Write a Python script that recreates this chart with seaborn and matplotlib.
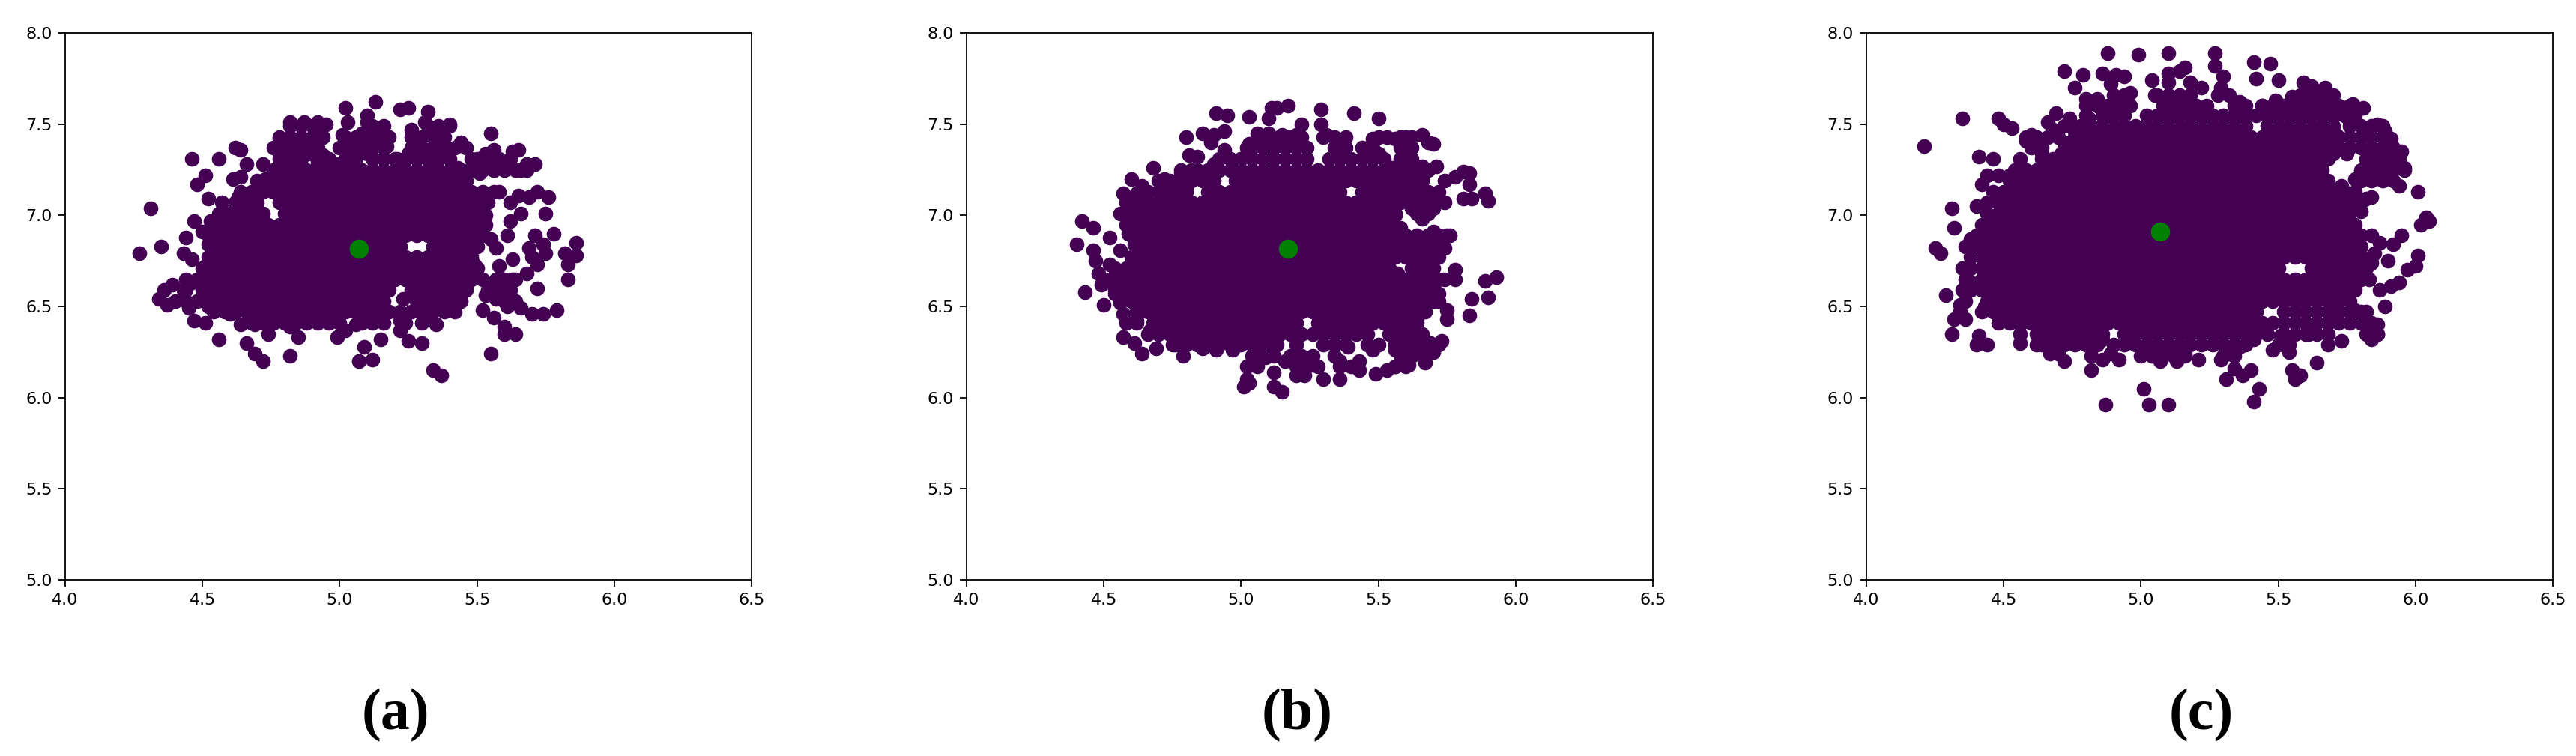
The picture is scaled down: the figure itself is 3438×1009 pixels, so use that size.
#scatter of three clusters with their centers
import matplotlib
matplotlib.use('Agg')
import matplotlib.pyplot as plt
import seaborn as sb
import pandas as pd

panel_names = ['(a)', '(b)', '(c)']
x_ticks = [4.0, 4.5, 5.0, 5.5, 6.0, 6.5]
y_ticks = [5.0, 5.5, 6.0, 6.5, 7.0, 7.5, 8.0]
center_x = [5.07, 5.17, 5.07]
center_y = [6.815, 6.815, 6.913]

# loose points around the edge of each cloud
a_x = [5.02,5.13,5.22,5.25,5.32,5.03,5.10,5.10,5.31,5.40,5.26,5.55,4.82,4.87,4.92,4.95,5.15,5.08,5.01,4.78,4.86,4.93,5.36,5.44,5.17,5.11,5.29,5.36,4.62,4.64,4.46,4.56,4.78,5.63,5.65,5.56,5.53,5.48,5.03,4.89,4.94,5.10,4.66,4.72,4.78,4.84,4.92,4.51,4.48,4.61,4.64,4.73,5.71,5.68,5.66,5.60,5.53,5.43,5.35,5.25,5.21,5.13,4.99,4.83,5.48,5.56,5.51,4.79,4.76,4.68,4.63,
       5.58,5.72,5.76,5.65,5.69,5.62,5.75,5.66,5.62,5.78,5.86,5.82,5.86,5.83,5.83,5.61,5.71,5.74,5.69,5.75,5.70,5.72,5.63,5.58,5.57,5.55,5.68,5.63,5.57,5.52,5.72,5.79,5.74,5.70,5.66,5.61,5.57,5.53,5.52,5.56,5.60,5.64,5.60,5.55,5.34,5.37,5.49,5.46,5.53,5.53,5.48,5.53,5.46,5.60,5.60,5.56,
       4.31,4.27,4.35,4.44,4.47,4.53,4.52,4.57,4.50,4.43,4.46,4.52,4.55,4.39,4.36,4.34,4.37,4.43,4.46,4.45,4.52,4.47,4.51,4.60,4.64,4.69,4.74,4.82,4.85,4.56,4.66,4.69,4.72,4.82,4.99,5.02,5.09,5.07,5.12,5.15,5.22,5.25,5.30,5.35,5.33,5.28,5.22,5.06,4.93,5.04,5.16,5.40,5.35,5.23,4.51,4.49,4.56]
a_y = [7.59,7.62,7.58,7.59,7.57,7.51,7.55,7.51,7.51,7.50,7.47,7.45,7.51,7.51,7.51,7.50,7.48,7.45,7.44,7.42,7.42,7.45,7.45,7.40,7.38,7.42,7.38,7.38,7.37,7.36,7.31,7.31,7.34,7.35,7.36,7.36,7.34,7.31,7.37,7.34,7.33,7.34,7.28,7.28,7.26,7.25,7.29,7.22,7.17,7.20,7.21,7.20,7.28,7.28,7.25,7.26,7.28,7.26,7.30,7.34,7.31,7.23,7.28,7.19,7.26,7.25,7.23,7.19,7.13,7.13,7.10,
       7.13,7.13,7.10,7.11,7.10,7.07,7.01,7.01,6.97,6.90,6.85,6.79,6.78,6.73,6.65,6.89,6.89,6.84,6.82,6.79,6.77,6.73,6.76,6.72,6.82,6.87,6.68,6.65,6.65,6.65,6.60,6.48,6.46,6.46,6.49,6.50,6.54,6.56,6.48,6.44,6.39,6.35,6.35,6.24,6.15,6.12,6.73,6.62,7.00,7.09,7.04,6.95,6.87,6.60,6.56,6.63,
       7.04,6.79,6.83,6.88,6.97,6.97,7.09,7.07,6.91,6.79,6.76,6.84,6.78,6.62,6.59,6.54,6.51,6.59,6.63,6.49,6.50,6.42,6.41,6.46,6.40,6.40,6.35,6.39,6.33,6.32,6.30,6.24,6.20,6.23,6.33,6.37,6.28,6.20,6.21,6.32,6.37,6.31,6.30,6.40,6.44,6.48,6.42,6.40,6.43,6.48,6.48,6.51,6.54,6.54,6.72,6.63,6.57]

b_x = [4.91,4.95,5.03,5.11,5.13,5.17,5.10,5.29,5.41,5.50,5.22,5.29,4.80,4.86,4.90,4.94,4.89,5.06,5.10,5.03,5.15,5.20,5.31,5.35,5.48,5.53,5.56,5.60,5.66,5.70,5.68,4.94,4.81,4.84,5.00,4.90,5.45,5.50,5.59,5.60,5.66,5.71,5.83,5.81,5.78,5.74,5.83,5.81,5.84,5.89,5.90,4.68,4.60,4.72,4.72,4.64,4.57,4.62,4.58,4.78,4.83,4.87,4.67,4.80,
       4.42,4.46,4.40,4.52,4.59,4.61,4.46,4.56,4.47,4.52,4.48,4.49,4.43,4.54,4.50,4.56,4.57,4.58,4.62,4.57,4.61,4.64,4.69,4.79,4.75,4.67,4.86,4.91,4.97,
       5.04,5.02,5.01,5.03,5.12,5.12,5.15,5.16,5.13,5.09,5.05,5.20,5.23,5.26,5.30,5.36,5.36,5.43,5.43,5.49,5.53,5.56,5.61,5.67,5.70,5.73,5.69,5.64,5.59,5.56,5.48,5.39,5.23,
       5.63,5.64,5.67,5.70,5.72,5.69,5.69,5.63,5.57,5.74,5.78,5.78,5.89,5.93,5.84,5.90,5.83,5.75,5.75,5.62,5.63,5.58,5.75,5.70,5.74,5.72,5.65,5.67,5.62,5.58,5.57,5.66,5.70,5.67,5.71,5.62,5.56,5.62,5.58,5.62,5.55,5.54]
b_y = [7.56,7.55,7.54,7.59,7.59,7.60,7.53,7.58,7.56,7.53,7.50,7.50,7.43,7.45,7.44,7.46,7.40,7.45,7.45,7.39,7.44,7.44,7.44,7.40,7.42,7.43,7.42,7.43,7.44,7.39,7.40,7.36,7.33,7.32,7.31,7.28,7.34,7.34,7.35,7.30,7.27,7.27,7.23,7.24,7.21,7.19,7.17,7.09,7.09,7.12,7.08,7.26,7.20,7.20,7.13,7.16,7.12,7.12,7.02,7.23,7.22,7.20,7.06,7.15,
       6.97,6.93,6.84,6.88,6.90,6.84,6.81,6.81,6.75,6.73,6.68,6.62,6.58,6.57,6.51,6.52,6.46,6.41,6.42,6.33,6.30,6.24,6.27,6.23,6.29,6.37,6.27,6.26,6.26,
       6.18,6.10,6.06,6.08,6.14,6.06,6.03,6.20,6.29,6.22,6.25,6.12,6.12,6.18,6.10,6.10,6.20,6.15,6.20,6.13,6.15,6.17,6.18,6.19,6.25,6.31,6.30,6.30,6.23,6.26,6.26,6.28,6.22,
       6.35,6.43,6.47,6.53,6.57,6.63,6.68,6.66,6.68,6.65,6.70,6.65,6.64,6.66,6.54,6.55,6.45,6.48,6.43,6.56,6.48,6.45,6.89,6.91,6.82,6.77,6.85,6.78,6.82,6.93,6.84,6.98,7.04,7.12,7.09,7.04,7.00,7.17,7.19,7.23,7.26,7.16]

c_x = [4.88,4.99,5.10,5.27,5.41,5.47,5.42,5.50,4.72,4.79,4.86,5.04,5.16,5.10,5.14,4.91,4.94,5.10,5.18,5.22,5.27,5.30,5.29,4.76,4.80,4.89,4.96,5.59,5.62,5.67,5.70,5.77,5.81,5.70,5.55,5.49,5.44,5.36,5.05,4.84,4.81,4.69,4.74,4.66,4.35,4.48,4.50,4.53,4.21,4.60,4.58,4.64,4.68,4.76,4.41,4.46,4.56,4.64,4.71,4.44,4.48,4.52,4.42,4.46,4.54,
       4.31,4.40,4.46,4.32,4.43,4.25,4.27,4.36,4.38,4.35,4.43,4.38,4.29,4.35,4.34,4.32,4.36,4.42,4.43,4.48,4.56,4.31,4.41,4.40,4.44,4.56,4.62,4.67,4.70,4.72,4.82,4.82,4.86,4.89,4.92,4.76,4.86,4.95,5.01,5.07,5.13,5.16,5.21,5.29,5.32,5.34,5.40,5.37,5.31,5.43,5.41,5.01,4.87,5.03,5.10,5.48,5.54,5.55,5.58,5.56,5.64,5.68,5.73,5.61,5.51,5.36,5.41,
       5.83,5.84,5.86,5.86,5.82,5.78,5.71,5.71,5.89,5.87,5.91,5.94,5.83,5.97,6.01,6.00,5.90,5.84,5.85,5.78,5.87,5.92,5.95,6.02,6.04,6.05,5.80,5.82,5.84,6.01,5.94,5.91,5.96,5.86,5.84,5.78,5.89,5.95,5.91,5.89,5.86,5.81,5.75,5.71,5.76,5.73,5.76,5.78,5.75,5.76,5.74,5.70]
c_y = [7.89,7.88,7.89,7.89,7.84,7.83,7.75,7.74,7.79,7.77,7.78,7.74,7.81,7.78,7.79,7.77,7.76,7.73,7.73,7.70,7.82,7.76,7.70,7.70,7.64,7.72,7.67,7.73,7.71,7.70,7.66,7.61,7.59,7.60,7.65,7.63,7.60,7.62,7.66,7.64,7.53,7.56,7.53,7.51,7.53,7.53,7.50,7.48,7.38,7.44,7.41,7.40,7.47,7.46,7.32,7.31,7.31,7.34,7.34,7.22,7.22,7.22,7.17,7.13,7.18,
       7.04,7.05,6.99,6.93,6.90,6.82,6.79,6.83,6.87,6.71,6.78,6.63,6.56,6.59,6.51,6.43,6.43,6.59,6.50,6.41,6.40,6.35,6.34,6.29,6.29,6.30,6.29,6.24,6.24,6.20,6.23,6.15,6.21,6.24,6.21,6.35,6.32,6.32,6.25,6.20,6.20,6.24,6.21,6.21,6.24,6.16,6.15,6.12,6.10,6.05,5.98,6.05,5.96,5.96,5.96,6.26,6.25,6.15,6.12,6.10,6.19,6.29,6.31,6.35,6.34,6.28,6.32,
       6.35,6.32,6.40,6.35,6.47,6.48,6.44,6.50,6.50,6.59,6.61,6.63,6.65,6.70,6.78,6.72,6.75,6.74,6.79,6.73,6.85,6.84,6.89,6.95,6.99,6.97,7.02,7.09,7.10,7.13,7.16,7.23,7.26,7.28,7.22,7.20,7.31,7.35,7.42,7.46,7.50,7.45,7.34,7.44,7.51,7.16,7.09,6.88,6.93,6.68,6.60,6.54]

# inside the clouds single dots can't be told apart, so these are read as
# rows of dots that fill the solid part: y -> x values
a_rows = {
    7.25: [4.96,5.00,5.04,5.08,5.12,5.16,5.20,5.24,5.28,5.32,5.36],
    7.19: [4.94,4.98,5.02,5.06,5.10,5.14,5.18,5.22,5.26,5.30,5.34,5.38],
    7.13: [4.72,4.76,4.80,4.84,4.88,4.92,4.96,5.00,5.04,5.08,5.12,5.16,5.20,5.24,5.28,5.32,5.36,5.40,5.44,5.48],
    7.07: [4.66,4.70,4.78,4.82,4.86,4.90,4.94,4.98,5.02,5.06,5.10,5.14,5.18,5.22,5.26,5.30,5.34,5.38,5.42],
    7.01: [4.60,4.64,4.68,4.72,4.80,4.84,4.88,4.92,4.96,5.00,5.04,5.08,5.12,5.16,5.20,5.24,5.28,5.32,5.36,5.40],
    6.95: [4.58,4.62,4.66,4.70,4.74,4.78,4.82,4.86,4.90,4.94,4.98,5.02,5.06,5.10,5.14,5.18,5.22,5.26,5.30,5.34],
    6.89: [4.60,4.64,4.68,4.72,4.76,4.80,4.84,4.88,4.92,4.96,5.00,5.04,5.08,5.12,5.16,5.20,5.24,5.28,5.32,5.36,5.40,5.44,5.48],
    6.83: [4.62,4.66,4.70,4.74,4.78,4.82,4.86,4.90,4.94,4.98,5.02,5.06,5.10,5.14,5.18,5.22,5.34,5.38,5.42,5.46],
    6.77: [4.60,4.64,4.68,4.72,4.76,4.80,4.84,4.88,4.92,4.96,5.00,5.04,5.08,5.12,5.16,5.20,5.24,5.28,5.32,5.36,5.40],
    6.71: [4.58,4.62,4.66,4.70,4.74,4.78,4.82,4.86,4.90,4.94,4.98,5.02,5.06,5.10,5.14,5.18,5.22,5.26,5.30,5.34,5.38,5.42],
    6.65: [4.56,4.60,4.64,4.68,4.72,4.76,4.80,4.84,4.88,4.92,4.96,5.00,5.04,5.08,5.12,5.16,5.20,5.24,5.28,5.32,5.36,5.40,5.44],
    6.59: [4.58,4.62,4.66,4.70,4.74,4.78,4.82,4.86,4.90,4.94,4.98,5.02,5.06,5.10,5.14,5.18,5.26,5.30,5.34,5.38,5.42],
    6.53: [4.52,4.56,4.60,4.64,4.68,4.72,4.76,4.80,4.84,4.88,4.92,4.96,5.00,5.04,5.08,5.12,5.16,5.28,5.32,5.36,5.40],
    6.47: [4.62,4.66,4.70,4.74,4.78,4.82,4.86,4.90,4.94,4.98,5.10,5.14,5.18,5.30,5.34,5.38],
    6.41: [4.80,4.84,4.88,4.92,4.96],
}
# the patchier band between the solid part and the loose points
a_edge = {
    7.49: [4.82,4.86,4.90,4.94,5.12,5.16,5.32,5.36,5.40],
    7.43: [4.78,4.82,4.86,4.90,4.94,5.02,5.06,5.10,5.14,5.18,5.26,5.30,5.34,5.38],
    7.37: [4.76,4.80,4.84,4.88,4.92,5.00,5.04,5.08,5.12,5.16,5.26,5.30,5.34,5.38,5.42,5.46],
    7.31: [4.78,4.82,4.86,4.92,4.96,5.02,5.06,5.12,5.16,5.20,5.24,5.28,5.32,5.36,5.40,5.50,5.54,5.58,5.62],
    7.25: [4.76,4.80,4.84,4.88,4.92,5.40,5.44,5.48,5.52,5.56,5.60,5.64,5.68],
    7.19: [4.70,4.74,4.78,4.82,4.86,4.90,5.42,5.46],
    7.13: [4.64,4.68,5.52,5.56],
    7.07: [4.62,5.46,5.50,5.54],
    7.01: [4.56,5.44,5.48,5.52],
    6.95: [4.54,5.38,5.42,5.46,5.50],
    6.89: [4.52,4.56,5.52],
    6.83: [4.54,4.58,5.50],
    6.77: [4.52,4.56,5.44,5.48],
    6.71: [4.50,4.54,5.46,5.50],
    6.65: [4.44,4.48,4.52,5.48,5.60,5.64],
    6.59: [4.44,4.50,4.54,5.46,5.54,5.58,5.62],
    6.53: [4.40,4.44,4.48,5.44,5.60,5.64],
    6.47: [4.54,4.58,5.02,5.06,5.22,5.26,5.42],
    6.41: [4.68,4.72,4.76,5.00,5.08,5.12,5.16,5.24,5.30],
}
b_rows = {
    7.37: [5.08,5.12,5.16,5.20,5.24,5.34,5.38],
    7.31: [4.96,5.00,5.04,5.08,5.12,5.16,5.20,5.24,5.32,5.36,5.40],
    7.25: [4.88,4.92,4.96,5.00,5.04,5.08,5.12,5.16,5.20,5.24,5.28,5.32,5.36,5.40,5.48,5.52,5.56,5.60],
    7.19: [4.78,4.82,4.86,4.90,4.98,5.02,5.06,5.10,5.14,5.18,5.22,5.26,5.30,5.34,5.38,5.42,5.46,5.50,5.54,5.58],
    7.13: [4.76,4.80,4.88,4.92,4.96,5.00,5.04,5.08,5.12,5.16,5.20,5.24,5.28,5.32,5.36,5.44,5.48,5.52,5.56,5.60],
    7.07: [4.62,4.66,4.70,4.74,4.78,4.82,4.86,4.90,4.94,4.98,5.02,5.06,5.10,5.14,5.18,5.22,5.26,5.30,5.34,5.38,5.42,5.46,5.50,5.54],
    7.01: [4.64,4.68,4.72,4.76,4.80,4.84,4.88,4.92,4.96,5.00,5.04,5.08,5.12,5.16,5.20,5.24,5.28,5.32,5.36,5.40,5.44,5.48],
    6.95: [4.62,4.66,4.70,4.74,4.78,4.82,4.86,4.90,4.94,4.98,5.02,5.06,5.10,5.14,5.18,5.22,5.26,5.30,5.34,5.38,5.42,5.46,5.50],
    6.89: [4.64,4.68,4.72,4.76,4.80,4.84,4.88,4.92,4.96,5.00,5.04,5.08,5.12,5.16,5.20,5.24,5.28,5.32,5.36,5.40,5.44,5.48,5.52],
    6.83: [4.66,4.70,4.74,4.78,4.82,4.86,4.90,4.94,4.98,5.02,5.06,5.10,5.14,5.18,5.22,5.26,5.30,5.34,5.38,5.42,5.46,5.50,5.54,5.58],
    6.77: [4.64,4.68,4.72,4.76,4.80,4.84,4.88,4.92,4.96,5.00,5.04,5.08,5.12,5.16,5.20,5.24,5.28,5.32,5.36,5.40,5.44,5.48,5.52,5.56],
    6.71: [4.58,4.62,4.66,4.70,4.74,4.78,4.82,4.86,4.90,4.94,4.98,5.02,5.06,5.10,5.14,5.18,5.22,5.26,5.30,5.34,5.38,5.42,5.46,5.50],
    6.65: [4.56,4.60,4.64,4.68,4.72,4.76,4.80,4.84,4.88,4.92,4.96,5.00,5.04,5.08,5.12,5.16,5.20,5.24,5.28,5.32,5.36,5.40,5.44,5.48,5.52],
    6.59: [4.62,4.66,4.70,4.74,4.78,4.82,4.86,4.90,4.94,4.98,5.02,5.06,5.10,5.14,5.18,5.22,5.26,5.30,5.34,5.38,5.42,5.46,5.50],
    6.53: [4.64,4.68,4.72,4.76,4.80,4.84,4.88,4.92,4.96,5.00,5.04,5.08,5.12,5.16,5.20,5.24,5.28,5.32,5.36,5.40,5.44,5.48,5.52],
    6.47: [4.66,4.70,4.74,4.78,4.82,4.86,4.90,4.94,4.98,5.02,5.06,5.10,5.14,5.18,5.22,5.26,5.30,5.34,5.38,5.42,5.46,5.50],
    6.41: [4.68,4.72,4.76,4.80,4.84,4.88,4.92,4.96,5.00,5.04,5.08,5.12,5.16,5.20,5.28,5.32,5.36,5.40,5.44,5.48,5.52,5.56,5.60],
    6.35: [4.70,4.74,4.78,4.82,4.86,4.90,4.94,4.98,5.02,5.06,5.10,5.14,5.18,5.22,5.26,5.30,5.34,5.38,5.42,5.46,5.54,5.58],
    6.29: [4.84,4.88,4.92,4.96,5.00,5.04,5.08,5.34,5.38,5.56,5.60],
}
b_edge = {
    7.43: [5.06,5.10,5.14,5.18,5.22,5.30,5.34,5.38,5.50,5.58,5.62],
    7.37: [5.02,5.04,5.44,5.48,5.58,5.60,5.62],
    7.31: [4.92,5.44,5.48,5.52,5.58,5.62],
    7.25: [4.78,4.82,4.84,5.44,5.64,5.68],
    7.19: [4.70,4.74,5.62,5.66],
    7.13: [4.66,4.70,5.64,5.68,5.72],
    7.07: [4.58,5.58,5.62,5.66,5.70,5.74],
    7.01: [4.56,4.60,5.52,5.56,5.64,5.68],
    6.95: [4.58,5.54],
    6.89: [4.60,5.56,5.60,5.64,5.68,5.72,5.76],
    6.83: [4.62,5.62,5.66,5.70],
    6.77: [4.60,5.60,5.64,5.68],
    6.71: [4.54,5.54,5.62,5.66,5.70],
    6.65: [4.52,5.56,5.60,5.64,5.68,5.72],
    6.59: [4.54,4.58,5.54,5.58,5.62,5.66,5.70],
    6.53: [4.60,5.56,5.60,5.64,5.68,5.72],
    6.47: [4.62,5.54,5.58,5.62,5.66],
    6.41: [4.62,5.64],
    6.35: [4.66,5.62,5.66],
    6.29: [4.76,4.80,5.12,5.20,5.30,5.46,5.50,5.64,5.68,5.72],
    6.23: [5.04,5.08,5.12,5.18,5.22,5.26,5.34,5.58,5.62,5.66],
    6.17: [5.02,5.06,5.20,5.24,5.28,5.36,5.40,5.56,5.60],
}
c_rows = {
    7.60: [4.88,4.92,4.96,5.08,5.12,5.16,5.20,5.24,5.34,5.60,5.64,5.68],
    7.55: [4.86,4.90,4.94,5.02,5.06,5.10,5.14,5.18,5.22,5.26,5.30,5.34,5.38,5.42,5.46,5.50,5.58,5.62,5.66,5.70],
    7.49: [4.78,4.82,4.86,4.90,4.94,4.98,5.02,5.06,5.10,5.14,5.18,5.22,5.26,5.30,5.34,5.38,5.46,5.50,5.54,5.58,5.62,5.66,5.70],
    7.43: [4.76,4.80,4.84,4.88,4.92,4.96,5.00,5.04,5.08,5.12,5.16,5.20,5.24,5.28,5.32,5.36,5.40,5.44,5.48,5.52,5.56,5.60,5.64,5.68],
    7.40: [4.74,4.78,4.82,4.86,4.90,4.94,4.98,5.02,5.06,5.10,5.14,5.18,5.22,5.26,5.30,5.34,5.38,5.42,5.46,5.50,5.54,5.58,5.62,5.66,5.70],
    7.37: [4.72,4.76,4.80,4.84,4.88,4.92,4.96,5.00,5.04,5.08,5.12,5.16,5.20,5.24,5.28,5.32,5.36,5.40,5.44,5.48,5.52,5.56,5.60,5.64,5.68,5.72],
    7.34: [4.74,4.78,4.82,4.86,4.90,4.94,4.98,5.02,5.06,5.10,5.14,5.18,5.22,5.26,5.30,5.34,5.38,5.42,5.46,5.50,5.54,5.58,5.62,5.66,5.70],
    7.31: [4.76,4.80,4.84,4.88,4.92,4.96,5.00,5.04,5.08,5.12,5.16,5.20,5.24,5.28,5.32,5.36,5.40,5.44,5.48,5.52,5.56,5.60,5.64,5.68],
    7.25: [4.58,4.62,4.66,4.70,4.74,4.78,4.82,4.86,4.90,4.94,4.98,5.02,5.06,5.10,5.14,5.18,5.22,5.26,5.30,5.34,5.38,5.42,5.46,5.50,5.54,5.58,5.62,5.66],
    7.19: [4.56,4.60,4.64,4.68,4.72,4.76,4.80,4.84,4.88,4.92,4.96,5.00,5.04,5.08,5.12,5.16,5.20,5.24,5.28,5.32,5.36,5.40,5.44,5.48,5.52,5.56,5.60],
    7.13: [4.54,4.58,4.62,4.66,4.70,4.74,4.78,4.82,4.86,4.90,4.94,4.98,5.02,5.06,5.10,5.14,5.18,5.22,5.26,5.30,5.34,5.38,5.42,5.46,5.50,5.54,5.58,5.62,5.66,5.70,5.74],
    7.07: [4.48,4.52,4.56,4.60,4.64,4.68,4.72,4.76,4.80,4.84,4.88,4.92,4.96,5.00,5.04,5.08,5.12,5.16,5.20,5.24,5.28,5.32,5.36,5.40,5.44,5.48,5.52,5.56,5.60,5.64,5.68,5.72,5.76],
    7.04: [4.50,4.54,4.58,4.62,4.66,4.70,4.74,4.78,4.82,4.86,4.90,4.94,4.98,5.02,5.06,5.10,5.14,5.18,5.22,5.26,5.30,5.34,5.38,5.42,5.46,5.50,5.54,5.58,5.62,5.66,5.70,5.74],
    7.01: [4.48,4.52,4.56,4.60,4.64,4.68,4.72,4.76,4.80,4.84,4.88,4.92,4.96,5.00,5.04,5.08,5.12,5.16,5.20,5.24,5.28,5.32,5.36,5.40,5.44,5.48,5.52,5.56,5.60,5.64,5.68,5.72],
    6.95: [4.46,4.50,4.54,4.58,4.62,4.66,4.70,4.74,4.78,4.82,4.86,4.90,4.94,4.98,5.02,5.06,5.10,5.14,5.18,5.22,5.26,5.30,5.34,5.38,5.42,5.46,5.50,5.54,5.58,5.62,5.66,5.70,5.74],
    6.89: [4.44,4.48,4.52,4.56,4.60,4.64,4.68,4.72,4.76,4.80,4.84,4.88,4.92,4.96,5.00,5.04,5.08,5.12,5.16,5.20,5.24,5.28,5.32,5.36,5.40,5.44,5.48,5.52,5.56,5.60,5.64,5.68,5.72,5.76],
    6.83: [4.42,4.46,4.50,4.54,4.58,4.62,4.66,4.70,4.74,4.78,4.82,4.86,4.90,4.94,4.98,5.02,5.06,5.10,5.14,5.18,5.22,5.26,5.30,5.34,5.38,5.42,5.46,5.50,5.54,5.58,5.62,5.66,5.70,5.74,5.78],
    6.77: [4.42,4.44,4.48,4.52,4.56,4.60,4.64,4.68,4.72,4.76,4.80,4.84,4.88,4.92,4.96,5.00,5.04,5.08,5.12,5.16,5.20,5.24,5.28,5.32,5.36,5.40,5.44,5.48,5.52,5.56,5.60,5.64,5.68,5.72,5.76,5.80],
    6.71: [4.42,4.46,4.50,4.54,4.58,4.62,4.66,4.70,4.74,4.78,4.82,4.86,4.90,4.94,4.98,5.02,5.06,5.10,5.14,5.18,5.22,5.26,5.30,5.34,5.38,5.42,5.46,5.50,5.62,5.66,5.70,5.74,5.78],
    6.65: [4.42,4.44,4.48,4.52,4.56,4.60,4.64,4.68,4.72,4.76,4.80,4.84,4.88,4.92,4.96,5.00,5.04,5.08,5.12,5.16,5.20,5.24,5.28,5.32,5.36,5.40,5.44,5.48,5.52,5.56,5.60,5.64,5.68,5.72,5.76],
    6.59: [4.42,4.46,4.50,4.54,4.58,4.62,4.66,4.70,4.74,4.78,4.82,4.86,4.90,4.94,4.98,5.02,5.06,5.10,5.14,5.18,5.22,5.26,5.30,5.34,5.38,5.42,5.46,5.50,5.54,5.58,5.62,5.70],
    6.53: [4.44,4.48,4.52,4.56,4.60,4.64,4.68,4.72,4.76,4.80,4.84,4.88,4.92,4.96,5.00,5.04,5.08,5.12,5.16,5.20,5.24,5.28,5.32,5.36,5.40,5.44,5.48,5.52,5.56,5.60],
    6.47: [4.46,4.50,4.54,4.58,4.62,4.66,4.70,4.74,4.78,4.82,4.86,4.90,4.94,4.98,5.02,5.06,5.10,5.14,5.18,5.22,5.26,5.30,5.34,5.38,5.52,5.56,5.60,5.64],
    6.41: [4.52,4.56,4.60,4.64,4.68,4.72,4.76,4.80,4.84,4.88,4.92,4.96,5.00,5.04,5.08,5.12,5.16,5.20,5.24,5.28,5.32,5.36,5.40,5.56,5.60,5.64,5.68],
    6.35: [4.62,4.66,4.70,4.74,4.78,4.82,4.86,4.94,4.98,5.02,5.06,5.10,5.14,5.18,5.22,5.26,5.30,5.34,5.38],
}
c_edge = {
    7.66: [4.90,4.94,5.06,5.10,5.14,5.18,5.28,5.32,5.58,5.62,5.66],
    7.60: [4.80,4.84,5.38,5.44,5.48,5.52,5.56,5.72,5.76],
    7.55: [4.80,5.54,5.74,5.78],
    7.49: [4.72,5.76,5.80,5.84,5.88],
    7.43: [4.58,4.62,4.66,4.70,5.72,5.76,5.80,5.84,5.88],
    7.37: [4.60,4.64,5.76,5.80,5.84,5.88,5.92],
    7.31: [4.64,4.68,4.72,5.82,5.86,5.90,5.94],
    7.25: [4.54,5.80,5.84,5.88,5.92,5.96],
    7.19: [4.52,5.64,5.68,5.80,5.84,5.88,5.92],
    7.13: [4.50,5.78],
    7.07: [4.44,5.80],
    7.01: [4.44,5.76],
    6.95: [4.42,5.78],
    6.89: [4.40,5.80,5.84],
    6.83: [4.38,5.80],
    6.77: [4.38,5.84],
    6.71: [4.38,5.82],
    6.65: [4.36,5.80],
    6.59: [4.38,5.66,5.74,5.78],
    6.53: [4.36,5.64,5.68,5.72,5.76],
    6.47: [4.34,4.42,5.42,5.68,5.72,5.76,5.80],
    6.41: [5.44,5.48,5.52,5.72,5.76,5.80,5.84],
    6.35: [4.56,5.42,5.46,5.52,5.56,5.60,5.64,5.68,5.82,5.86],
    6.29: [4.64,4.68,4.72,4.76,4.80,4.84,4.90,4.94,4.98,5.02,5.06,5.10,5.14,5.18,5.22,5.26,5.30,5.34,5.38,5.50,5.54],
    6.23: [5.00,5.04,5.08,5.12,5.16,5.30,5.34],
}

clouds = [(a_x, a_y, a_rows, a_edge), (b_x, b_y, b_rows, b_edge), (c_x, c_y, c_rows, c_edge)]
axes_left = [87, 1290, 2491]
label_x = [528, 1731, 2938]

W, H = 3438, 1009
sb.set_style('ticks')
fig = plt.figure(figsize=(W/100, H/100), dpi=100, facecolor='white')

def cloud_frame(xs, ys, rows, edge):
    px = list(xs)
    py = list(ys)
    for part in (rows, edge):
        for y, row in part.items():
            px += row
            py += [y]*len(row)
    return pd.DataFrame({'x': px, 'y': py})

for i in range(3):
    ax = fig.add_axes([axes_left[i]/W, 1-774/H, 916/W, 730/H])
    df = cloud_frame(*clouds[i])
    sb.scatterplot(data=df, x='x', y='y', color='#440154', s=200, linewidth=0, ax=ax, zorder=2)
    sb.scatterplot(x=[center_x[i]], y=[center_y[i]], color='green', s=340, linewidth=0, ax=ax, zorder=3)
    ax.set_xlim(4.0, 6.5)
    ax.set_ylim(5.0, 8.0)
    ax.set_xticks(x_ticks)
    ax.set_yticks(y_ticks)
    ax.set_xlabel('')
    ax.set_ylabel('')
    ax.tick_params(labelsize=16, length=6.5, width=1.3, colors='black', pad=6)
    for s in ax.spines.values():
        s.set_visible(True)
        s.set_linewidth(1.3)
        s.set_color('black')
    fig.text(label_x[i]/W, 1-955/H, panel_names[i], ha='center', va='center', color='black',
             family='Liberation Serif', fontweight='bold', fontsize=56)

fig.savefig('out.png', dpi=100)
